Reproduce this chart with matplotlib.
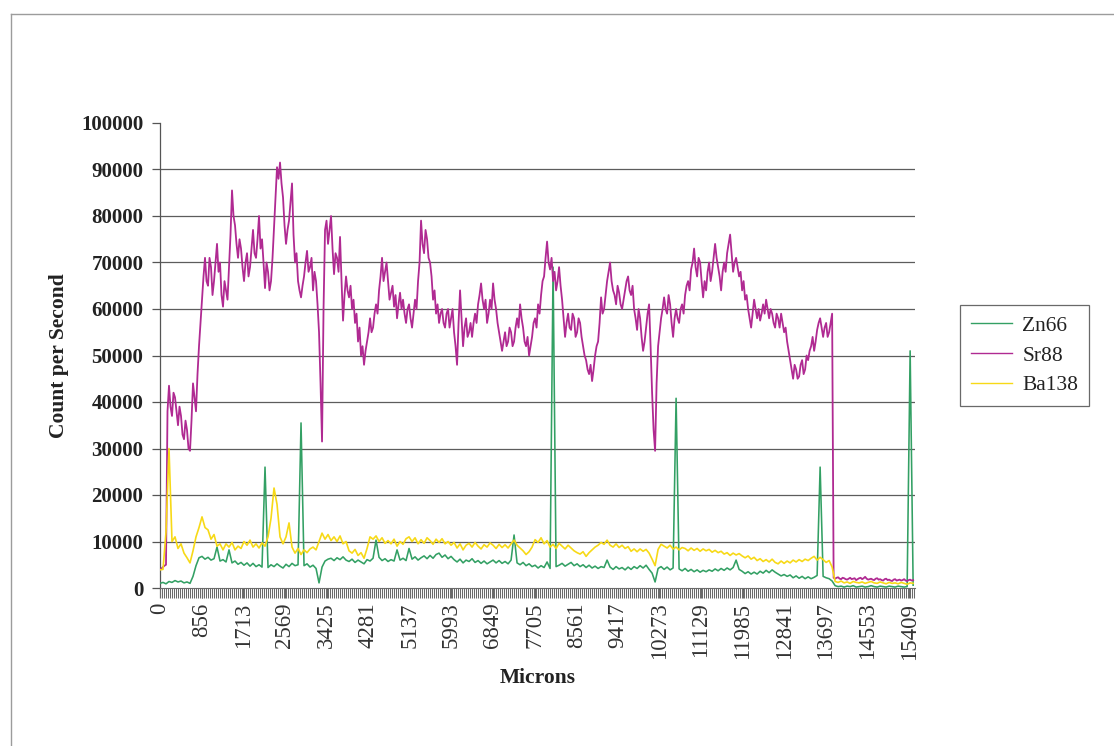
import numpy as np
import matplotlib
matplotlib.use("Agg")
import matplotlib.pyplot as plt
from matplotlib.lines import Line2D

# Laser-ablation transect: counts per second (thousands) along the sample
SAMPLE_STEP_UM = 61.72      # Zn66 / Ba138 sampling step
SR_STEP_UM = 30.86          # Sr88 is recorded at twice the density

ZN66 = [
    1.0, 1.2, 0.9, 1.4, 1.2, 1.6, 1.3, 1.5, 1.1, 1.3,
    1.0, 2.5, 4.8, 6.5, 6.8, 6.2, 6.6, 6.0, 6.3, 8.8,
    5.8, 6.1, 5.6, 8.2, 5.4, 5.8, 5.1, 5.5, 4.9, 5.4,
    4.7, 5.3, 4.6, 5.0, 4.5, 26.0, 4.4, 5.0, 4.6, 5.2,
    4.7, 4.3, 5.1, 4.6, 5.3, 4.8, 5.0, 35.5, 4.8, 5.2,
    4.5, 4.9, 4.2, 1.1, 4.5, 5.8, 6.2, 6.4, 5.9, 6.5,
    6.1, 6.7, 6.0, 5.7, 6.2, 5.5, 6.0, 5.6, 5.2, 6.1,
    5.8, 6.4, 10.3, 6.6, 5.9, 6.3, 5.7, 6.1, 5.8, 8.2,
    6.0, 6.4, 5.9, 8.5, 6.2, 6.7, 6.0, 6.5, 6.9, 6.3,
    7.0, 6.4, 7.2, 7.5, 6.6, 7.1, 6.3, 6.8, 6.1, 5.6,
    6.2, 5.4, 6.0, 5.7, 6.3, 5.5, 5.9, 5.3, 5.8, 5.2,
    5.6, 6.0, 5.4, 5.9, 5.3, 5.7, 5.2, 6.0, 11.4, 5.4,
    5.0, 5.5, 4.8, 5.2, 4.6, 4.9, 4.3, 4.8, 4.4, 5.6,
    4.2, 69.0, 4.6, 4.9, 5.3, 4.7, 5.1, 5.5, 4.8, 5.2,
    4.6, 5.0, 4.4, 4.9, 4.3, 4.7, 4.2, 4.6, 4.4, 6.0,
    4.5, 4.0, 4.6, 4.1, 4.4, 3.9, 4.5, 4.0, 4.6, 4.2,
    4.8, 4.3, 4.9, 4.0, 3.2, 1.3, 4.2, 4.6, 4.0, 4.5,
    3.9, 4.3, 40.8, 4.1, 3.7, 4.2, 3.6, 4.0, 3.5, 3.9,
    3.4, 3.8, 3.5, 3.9, 3.6, 4.1, 3.7, 4.2, 3.8, 4.3,
    3.9, 4.4, 6.0, 4.0, 3.6, 3.1, 3.5, 3.0, 3.4, 3.0,
    3.6, 3.2, 3.8, 3.3, 3.9, 3.4, 3.0, 2.6, 2.9, 2.5,
    2.8, 2.2, 2.6, 2.1, 2.5, 2.0, 2.4, 2.0, 2.3, 2.7,
    26.0, 2.5, 2.2, 2.0, 1.5,
    0.5, 0.3, 0.4, 0.2, 0.4, 0.3, 0.5, 0.2, 0.3, 0.4,
    0.2, 0.3, 0.5, 0.3, 0.2, 0.4, 0.3, 0.2, 0.4, 0.3,
    0.2, 0.4, 0.3, 0.2, 0.3, 51.0, 0.6,
]

SR88 = [
    4.0, 4.2, 4.5, 4.8, 5.0, 38, 43.5, 39, 37, 42, 41, 38, 35, 39, 37, 33, 32, 36, 34, 30,
    29.5, 36, 44, 41, 38, 46, 52, 57, 62, 67, 71, 66, 65, 71, 69, 63, 66, 70, 74, 68,
    70, 63, 60.5, 66, 64, 62, 69, 76, 85.5, 80, 78, 74, 71, 75, 73, 69, 66, 70, 72, 67,
    69, 73, 77, 72, 71, 75, 80, 73, 75, 70, 64.5, 70, 68, 64, 66, 71, 77.5, 84, 90.5, 88,
    91.5, 87, 84, 78, 74, 77, 79, 83, 87, 76, 70, 72, 66, 64, 62.5, 65, 67, 70, 72.5, 68,
    69, 71, 64, 68, 66, 61, 55, 44, 31.5, 60, 77, 79, 74, 77, 80, 73, 67.5, 72, 71, 68,
    75.5, 66, 57.5, 63, 67, 64, 62.5, 65, 60, 62, 57, 59, 53, 56, 50, 52, 48, 51, 53, 55,
    58, 55, 56, 59, 61, 59, 64, 67, 71, 66, 68, 70, 66, 62, 63.5, 65, 60.5, 63, 58, 61,
    63.5, 60, 62, 59, 57, 60, 61, 58, 56, 59, 62, 60, 66, 70, 79, 74, 72, 77, 75, 71,
    70, 67, 62, 64, 59, 61, 57, 59, 60, 57, 56, 59, 60, 56, 58, 60, 55, 52, 48, 57,
    64, 58, 52, 56, 58, 54, 55, 57, 54, 57, 59, 57, 61, 63, 65.5, 62, 60, 62, 57, 59,
    62, 60, 65.5, 62, 60, 57, 55, 53, 51, 53, 55, 52, 53, 56, 55, 52, 53, 56, 58, 56,
    61, 58, 56, 53, 52, 54, 50, 52, 54, 57, 58, 56, 61, 59, 63, 66, 67, 71, 74.5, 70,
    68.5, 71, 66, 68, 64, 66, 69, 65, 62, 58, 54, 57, 59, 56, 55.5, 59, 58, 54, 55, 58,
    57, 54, 52, 50, 49, 47, 46, 48, 44.5, 47, 50, 52, 53, 57, 62.5, 59, 60, 63, 66, 68,
    70, 66, 64, 63, 61, 65, 63.5, 61, 60, 62, 64, 66, 67, 64, 63, 65, 60, 58, 55.5, 60,
    58, 54, 51, 53, 56, 59, 61, 52, 42, 34, 29.5, 44, 52, 55, 58, 60, 62.5, 60, 59, 63,
    61, 57, 54, 58, 60, 58, 57, 60, 61, 59, 63, 65, 66, 64, 68.5, 70, 73, 69, 67, 71,
    70, 66, 62.5, 66, 64, 68, 70, 66, 68, 71, 74, 71, 69, 67, 64, 68, 70, 68, 72, 74,
    76, 72, 68, 70, 71, 69, 67, 68, 64, 66, 62, 63, 60, 58, 56, 59, 62, 60, 58, 60,
    57.5, 59, 61, 59, 62, 60, 58, 60, 59, 57, 56, 59, 58, 56, 59, 57, 55, 56, 53, 51,
    49, 47, 45, 48, 47, 45, 45.5, 48, 49, 46, 47, 50, 49, 51, 52, 54, 51, 53, 55.5, 57,
    58, 56, 54, 56, 57, 54, 55, 57, 59, 2.2,
    2.0, 2.2, 2.3, 2.0, 1.9, 2.2, 2.1, 1.9, 1.8, 2.0,
    2.2, 1.9, 2.0, 2.1, 1.7, 1.9, 2.1, 2.2, 1.9, 2.1,
    2.4, 2.0, 1.8, 1.9, 2.0, 1.8, 1.7, 2.0, 2.1, 1.8,
    1.9, 1.7, 1.6, 1.9, 2.0, 1.7, 1.8, 1.6, 1.5, 1.8,
    1.9, 1.6, 1.7, 1.8, 1.6, 1.7, 1.9, 1.6, 1.5, 1.7,
    1.8, 1.6, 1.7,
]

BA138 = [
    3.9, 4.0, 12.0, 30.0, 10.0, 11.0, 8.5, 9.5, 7.5, 6.5,
    5.4, 8.0, 11.0, 13.0, 15.3, 13.0, 12.5, 10.5, 11.5, 9.0,
    9.5, 8.2, 9.5, 8.8, 9.8, 8.2, 9.0, 8.5, 10.0, 9.2,
    10.3, 8.8, 9.5, 8.6, 9.7, 9.0, 11.0, 15.0, 21.5, 18.0,
    11.0, 9.5, 11.0, 14.0, 8.8, 7.5, 8.5, 7.2, 8.2, 7.6,
    8.4, 8.8, 8.2, 10.0, 11.8, 10.5, 11.5, 10.2, 11.0, 10.0,
    11.2, 9.5, 10.0, 8.0, 7.5, 8.3, 7.0, 7.6, 6.4, 8.5,
    11.0, 10.5, 11.2, 10.0, 10.8, 9.6, 10.2, 9.5, 10.5, 9.0,
    10.0, 9.4, 10.6, 11.0, 10.0, 10.8, 9.5, 10.4, 9.6, 10.8,
    10.2, 9.4, 10.5, 9.8, 10.6, 9.5, 10.0, 9.2, 9.8, 8.6,
    9.5, 8.2, 9.2, 9.6, 8.8, 9.8, 9.0, 8.4, 9.3, 8.8,
    9.7, 9.2, 8.5, 9.4, 8.7, 9.3, 8.6, 9.5, 10.3, 9.2,
    8.6, 8.0, 7.2, 7.8, 8.8, 10.4, 9.8, 10.8, 9.5, 10.2,
    8.8, 9.4, 8.5, 9.6, 9.0, 8.4, 9.2, 8.6, 8.0, 7.6,
    7.3, 7.8, 6.8, 7.6, 8.2, 8.8, 9.2, 9.8, 9.4, 10.3,
    9.2, 8.8, 9.5, 8.7, 9.2, 8.5, 8.9, 7.9, 8.4, 7.8,
    8.4, 7.9, 8.3, 7.5, 6.2, 4.8, 8.3, 9.4, 9.0, 8.6,
    9.2, 8.4, 8.8, 8.2, 8.7, 8.5, 8.0, 8.6, 8.1, 8.5,
    7.9, 8.4, 8.0, 8.3, 7.7, 8.1, 7.6, 7.9, 7.3, 7.6,
    7.0, 7.5, 7.1, 7.4, 6.9, 6.5, 6.9, 6.2, 6.6, 5.9,
    6.3, 5.7, 6.1, 5.6, 6.2, 5.5, 5.2, 5.8, 5.3, 5.8,
    5.4, 6.0, 5.6, 6.1, 5.7, 6.2, 5.9, 6.4, 6.8, 6.0,
    6.6, 6.1, 5.5, 5.9, 4.5,
    1.4, 1.2, 1.5, 1.1, 1.3, 1.0, 1.4, 1.2, 1.1, 1.3,
    1.0, 1.2, 1.4, 1.1, 1.0, 1.3, 1.1, 0.9, 1.2, 1.0,
    1.1, 0.9, 1.2, 1.0, 0.8, 1.1, 1.0,
]

SERIES_NAMES = ["Zn66", "Sr88", "Ba138"]
SERIES_COLORS = ["#33a064", "#b02a92", "#f7d917"]
SERIES_WIDTHS = [1.15, 1.3, 1.2]
X_TICKS = [0, 856, 1713, 2569, 3425, 4281, 5137, 5993, 6849, 7705,
           8561, 9417, 10273, 11129, 11985, 12841, 13697, 14553, 15409]
Y_TICKS = list(range(0, 100001, 10000))

values = [np.array(ZN66) * 1000, np.array(SR88) * 1000, np.array(BA138) * 1000]
positions = [np.arange(len(ZN66)) * SAMPLE_STEP_UM,
             np.arange(len(SR88)) * SR_STEP_UM,
             np.arange(len(BA138)) * SAMPLE_STEP_UM]

W, H = 1114, 746
fig = plt.figure(figsize=(W / 100, H / 100), dpi=100)
fig.patch.set_facecolor("white")

# Outer chart-area frame (top and left edges)
frame_kw = dict(color="#9c9c9c", lw=1.0, transform=fig.transFigure)
fig.add_artist(Line2D([11 / W, 1.0], [1 - 14 / H, 1 - 14 / H], **frame_kw))
fig.add_artist(Line2D([11 / W, 11 / W], [1 - 14 / H, 0.0], **frame_kw))

ax = fig.add_axes([160 / W, 1 - 588 / H, (915 - 160) / W, (588 - 123) / H])
ax.set_facecolor("white")

for name, color, lw, xs, ys in zip(SERIES_NAMES, SERIES_COLORS, SERIES_WIDTHS,
                                   positions, values):
    ax.plot(xs, ys, color=color, lw=lw, label=name, zorder=3)

ax.set_xlim(0, 15530)
ax.set_ylim(0, 100000)

# Horizontal gridlines between the axis ends
for v in Y_TICKS[1:-1]:
    ax.axhline(v, color="#5c5c5c", lw=0.9, zorder=1)

for side in ["top", "right"]:
    ax.spines[side].set_visible(False)
ax.spines["left"].set_color("#555555")
ax.spines["bottom"].set_color("#6a6a6a")
ax.spines["left"].set_linewidth(0.9)

serif = "Liberation Serif"
ax.set_yticks(Y_TICKS)
ax.set_yticklabels([str(v) for v in Y_TICKS], fontfamily=serif,
                   fontweight="bold", fontsize=15, color="#222222")
ax.tick_params(axis="y", direction="out", length=6, width=0.9,
               color="#555555", pad=6)

ax.set_xticks(X_TICKS)
ax.set_xticklabels([str(v) for v in X_TICKS], rotation=90, fontfamily=serif,
                   fontsize=16.5, color="#333333")
# Dense category tick marks form the striped band beneath the axis
ax.set_xticks(np.arange(0, 15530, 41.14), minor=True)
ax.tick_params(axis="x", which="minor", direction="out", length=7.5,
               width=0.75, color="#6a6a6a")
ax.tick_params(axis="x", which="major", direction="out", length=7.5,
               width=0.9, color="#6a6a6a", pad=3)

ax.set_ylabel("Count per Second", fontfamily=serif, fontweight="bold",
              fontsize=15.5, color="#222222", labelpad=9)
ax.set_xlabel("Microns", fontfamily=serif, fontweight="bold",
              fontsize=15.5, color="#222222", labelpad=6)

leg = fig.legend(loc="upper left", bbox_to_anchor=(960 / W, 1 - 305 / H),
                 frameon=True, fancybox=False, edgecolor="#444444",
                 prop={"family": serif, "size": 15.5}, handlelength=1.9,
                 handletextpad=0.5, labelspacing=0.45, borderpad=0.5,
                 borderaxespad=0.0)
leg.get_frame().set_linewidth(0.9)
for line in leg.get_lines():
    line.set_linewidth(1.0)
for t in leg.get_texts():
    t.set_color("#222222")

fig.savefig("out.png", dpi=100, facecolor="white")
